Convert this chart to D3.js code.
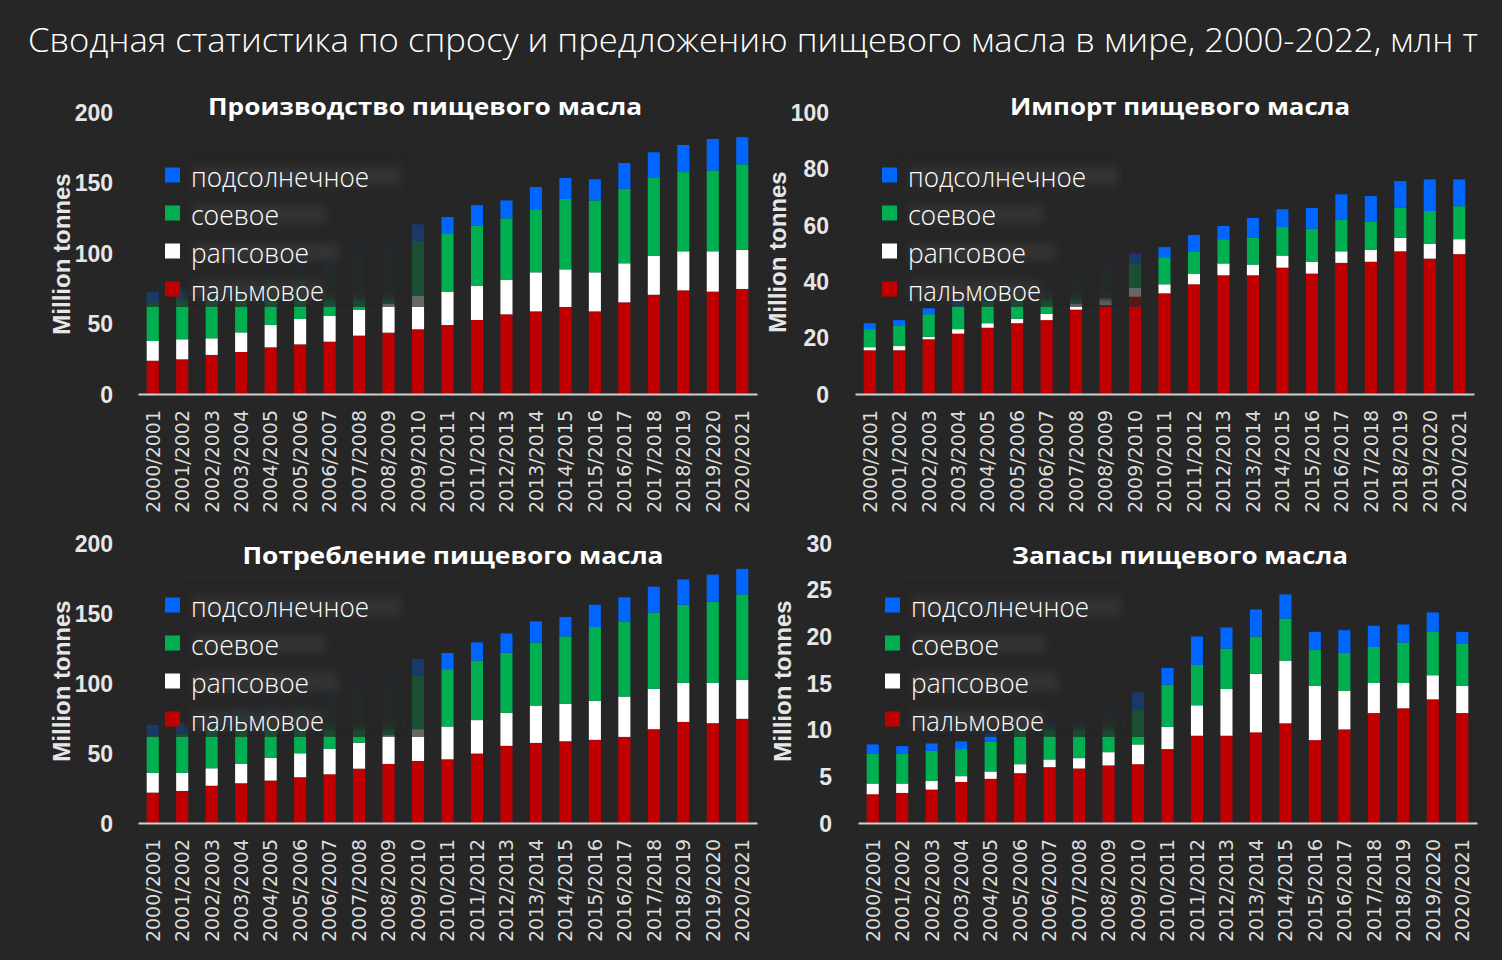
<!DOCTYPE html>
<meta charset="utf-8">
<html lang="ru">
<style>
  body { margin: 0; background: #262626; }
  svg { display: block; }
</style>
<body>
<div id="chart"></div>
<script src="https://d3js.org/d3.v7.min.js"></script>
<script>
// сезоны
var years = ["2000/2001", "2001/2002", "2002/2003", "2003/2004", "2004/2005", "2005/2006", "2006/2007",
  "2007/2008", "2008/2009", "2009/2010", "2010/2011", "2011/2012", "2012/2013", "2013/2014",
  "2014/2015", "2015/2016", "2016/2017", "2017/2018", "2018/2019", "2019/2020", "2020/2021"];

// производство, млн т
var prodPalm = [23.6, 24.6, 27.7, 29.8, 33.1, 35.2, 37.1, 41.4, 43.5, 45.9, 48.9, 52.5, 56.5, 58.6, 61.7, 58.6, 65.0, 70.4, 73.5, 72.6, 74.5];
var prodRape = [14.0, 14.2, 11.8, 13.9, 15.8, 18.0, 18.2, 18.2, 20.5, 23.6, 23.7, 24.3, 24.4, 27.7, 26.7, 27.7, 27.7, 27.7, 27.7, 28.6, 27.6];
var prodSoy  = [27.4, 28.7, 30.6, 29.9, 32.5, 34.6, 36.4, 37.8, 35.9, 39.0, 41.4, 42.6, 43.7, 44.7, 49.9, 51.0, 52.9, 55.1, 56.2, 57.4, 60.8];
var prodSun  = [7.6, 6.8, 7.6, 9.0, 9.2, 10.5, 10.7, 9.9, 11.9, 11.8, 11.5, 14.6, 12.7, 15.8, 14.9, 15.0, 18.2, 18.2, 19.2, 22.3, 19.2];

// импорт
var impPalm = [15.5, 15.5, 19.4, 21.4, 23.5, 25.1, 26.2, 29.9, 31.5, 34.5, 35.7, 38.9, 42.1, 42.1, 44.8, 42.7, 46.5, 46.9, 50.6, 48.0, 49.6];
var impRape = [1.1, 1.5, 0.9, 1.6, 1.6, 1.6, 2.2, 2.0, 2.5, 3.2, 3.2, 3.8, 4.2, 3.8, 4.3, 4.2, 4.1, 4.2, 4.8, 5.3, 5.3];
var impSoy  = [6.4, 7.1, 8.0, 8.2, 7.5, 8.8, 8.5, 9.0, 10.5, 8.6, 9.6, 7.9, 8.6, 9.5, 10.1, 11.7, 11.2, 10.1, 10.7, 11.6, 11.7];
var impSun  = [2.1, 2.1, 2.1, 2.2, 2.4, 2.8, 3.2, 3.3, 4.5, 3.6, 3.6, 5.8, 4.7, 7.0, 6.3, 7.4, 9.0, 9.0, 9.4, 11.2, 9.5];

// потребление
var consPalm = [21.7, 22.9, 26.6, 28.4, 30.3, 32.7, 34.8, 38.8, 42.2, 44.3, 45.5, 49.6, 55.1, 57.2, 58.4, 59.4, 61.5, 67.0, 72.2, 71.3, 74.4];
var consRape = [14.1, 12.9, 12.5, 13.8, 16.2, 17.1, 18.3, 18.6, 20.5, 22.7, 23.4, 23.9, 23.6, 26.7, 26.7, 27.9, 28.8, 28.8, 27.9, 28.8, 27.9];
var consSoy  = [26.6, 27.9, 30.5, 31.0, 32.0, 33.5, 35.5, 37.0, 35.8, 38.4, 41.0, 42.6, 42.9, 45.1, 48.2, 52.7, 53.7, 54.6, 55.8, 58.0, 61.0];
var consSun  = [7.7, 7.6, 8.0, 8.7, 9.0, 9.5, 10.0, 9.8, 11.2, 11.9, 11.5, 12.9, 13.8, 15.0, 13.8, 15.9, 17.2, 18.4, 18.1, 19.3, 18.2];

// запасы
var stockPalm = [3.08, 3.22, 3.58, 4.40, 4.73, 5.34, 5.98, 5.84, 6.17, 6.30, 7.92, 9.35, 9.35, 9.71, 10.68, 8.88, 10.03, 11.78, 12.29, 13.25, 11.78];
var stockRape = [1.15, 1.01, 0.93, 0.62, 0.79, 0.96, 0.83, 1.11, 1.42, 2.12, 2.39, 3.26, 5.01, 6.26, 6.72, 5.80, 4.15, 3.22, 2.71, 2.58, 2.90];
var stockSoy  = [3.22, 3.22, 3.22, 2.90, 3.22, 4.10, 3.40, 3.55, 3.90, 3.68, 4.51, 4.33, 4.33, 4.01, 4.51, 3.87, 4.05, 3.87, 4.33, 4.65, 4.51];
var stockSun  = [0.97, 0.79, 0.80, 0.82, 0.86, 1.00, 1.00, 1.10, 1.50, 1.90, 1.80, 3.04, 2.26, 2.90, 2.58, 1.93, 2.43, 2.26, 1.94, 2.08, 1.29];

// тики осей Y
var ticksProd = [0, 50, 100, 150, 200];
var ticksImp = [0, 20, 40, 60, 80, 100];
var ticksCons = [0, 50, 100, 150, 200];
var ticksStock = [0, 5, 10, 15, 20, 25, 30];

// легенда (сверху вниз) и порядок стека (снизу вверх)
var keys = ["palm", "rape", "soy", "sun"];
var colors = { palm: "#c00000", rape: "#ffffff", soy: "#00b050", sun: "#0066ff" };
var legendKeys = ["sun", "soy", "rape", "palm"];
var legendLabels = ["подсолнечное", "соевое", "рапсовое", "пальмовое"];
var legendWidths = [178, 88, 118, 133];
var smudgeWidths = [208, 133, 145, 130];

var bg = "#262626";
var W = 1502, H = 960;

var svg = d3.select("#chart").append("svg")
  .attr("width", W)
  .attr("height", H)
  .style("background", bg);

var defs = svg.append("defs");
defs.append("filter").attr("id", "soft").attr("x", "-20%").attr("y", "-20%").attr("width", "140%").attr("height", "140%")
  .append("feGaussianBlur").attr("stdDeviation", 3);
defs.append("filter").attr("id", "smudge").attr("x", "-30%").attr("y", "-100%").attr("width", "160%").attr("height", "300%")
  .append("feGaussianBlur").attr("stdDeviation", 4);

svg.append("rect").attr("width", W).attr("height", H).attr("fill", bg);

// главный заголовок
svg.append("text")
  .attr("x", 753)
  .attr("y", 52)
  .attr("text-anchor", "middle")
  .attr("textLength", 1450)
  .attr("lengthAdjust", "spacingAndGlyphs")
  .style("font-family", "'Open Sans', 'Noto Sans', sans-serif")
  .style("font-weight", 300)
  .style("font-size", "33px")
  .style("fill", "#ffffff")
  .text("Сводная статистика по спросу и предложению пищевого масла в мире, 2000-2022, млн т");

var panels = [
  { title: "Производство пищевого масла", titleX: 425, titleY: 115, titleW: 434,
    palm: prodPalm, rape: prodRape, soy: prodSoy, sun: prodSun, ticks: ticksProd,
    x0: 138, x1: 757, y0: 394, yTop: 112, tickX: 113, labX: 61, labY: 254, legX: 165, legY: 175 },
  { title: "Импорт пищевого масла", titleX: 1180, titleY: 115, titleW: 340,
    palm: impPalm, rape: impRape, soy: impSoy, sun: impSun, ticks: ticksImp,
    x0: 855, x1: 1474, y0: 394, yTop: 112, tickX: 829, labX: 777, labY: 252, legX: 882, legY: 175 },
  { title: "Потребление пищевого масла", titleX: 453, titleY: 564, titleW: 421,
    palm: consPalm, rape: consRape, soy: consSoy, sun: consSun, ticks: ticksCons,
    x0: 138, x1: 757, y0: 823, yTop: 543, tickX: 113, labX: 61, labY: 681, legX: 165, legY: 605 },
  { title: "Запасы пищевого масла", titleX: 1180, titleY: 564, titleW: 336,
    palm: stockPalm, rape: stockRape, soy: stockSoy, sun: stockSun, ticks: ticksStock,
    x0: 858, x1: 1477, y0: 823, yTop: 543, tickX: 832, labX: 782, labY: 681, legX: 885, legY: 605 }
];

panels.forEach(function (p) {
  var g = svg.append("g");

  var rows = years.map(function (yr, i) {
    return { year: yr, palm: p.palm[i], rape: p.rape[i], soy: p.soy[i], sun: p.sun[i] };
  });
  var stacked = d3.stack().keys(keys)(rows);

  var x = d3.scaleBand()
    .domain(years)
    .range([p.x0, p.x1])
    .paddingInner(0.59)
    .paddingOuter(0.295);

  var y = d3.scaleLinear()
    .domain([0, p.ticks[p.ticks.length - 1]])
    .range([p.y0, p.yTop]);

  // столбики
  g.selectAll("g.layer")
    .data(stacked)
    .enter().append("g")
    .attr("class", "layer")
    .attr("fill", function (d) { return colors[d.key]; })
    .selectAll("rect")
    .data(function (d) { return d; })
    .enter().append("rect")
    .attr("x", function (d) { return x(d.data.year); })
    .attr("y", function (d) { return y(d[1]); })
    .attr("width", x.bandwidth())
    .attr("height", function (d) { return y(d[0]) - y(d[1]); });

  // ось X
  var xAxis = g.append("g")
    .attr("transform", "translate(0," + p.y0 + ")")
    .call(d3.axisBottom(x).tickSize(0).tickSizeOuter(0));
  xAxis.select(".domain")
    .attr("stroke", "#d0d0d0")
    .attr("stroke-width", 2);
  xAxis.selectAll("text")
    .attr("transform", "rotate(-90)")
    .attr("x", -16)
    .attr("y", 0)
    .attr("dy", "0.36em")
    .attr("text-anchor", "end")
    .style("font-family", "'DejaVu Sans', sans-serif")
    .style("font-size", "19px")
    .style("fill", "#dcdcdc");

  // ось Y
  var yAxis = g.append("g")
    .attr("transform", "translate(" + p.tickX + ",0)")
    .call(d3.axisLeft(y).tickValues(p.ticks).tickSize(0).tickPadding(0));
  yAxis.select(".domain").remove();
  yAxis.selectAll("text")
    .attr("dy", "0.36em")
    .style("font-family", "'Liberation Sans', Arial, sans-serif")
    .style("font-weight", 700)
    .style("font-size", "23px")
    .style("fill", "#e6e6e6");

  g.append("text")
    .attr("transform", "translate(" + p.labX + "," + p.labY + ") rotate(-90)")
    .attr("text-anchor", "middle")
    .attr("dy", "0.36em")
    .style("font-family", "'Liberation Sans', Arial, sans-serif")
    .style("font-weight", 700)
    .style("font-size", "24px")
    .style("fill", "#e6e6e6")
    .text("Million tonnes");

  // заголовок панели
  g.append("text")
    .attr("x", p.titleX)
    .attr("y", p.titleY)
    .attr("text-anchor", "middle")
    .attr("textLength", p.titleW)
    .attr("lengthAdjust", "spacingAndGlyphs")
    .style("font-family", "'Open Sans', 'Noto Sans', sans-serif")
    .style("font-weight", 700)
    .style("font-size", "24px")
    .style("fill", "#ffffff")
    .text(p.title);

  // затемнённая подложка под легендой
  var step = 38;
  var lastY = p.legY + 3 * step;
  g.append("rect")
    .attr("x", p.legX - 25)
    .attr("y", p.legY - 25)
    .attr("width", 292)
    .attr("height", lastY + 18 - (p.legY - 25))
    .attr("fill", bg)
    .attr("opacity", 0.7);
  g.append("rect")
    .attr("x", p.legX + 19)
    .attr("y", p.legY - 17)
    .attr("width", 219)
    .attr("height", lastY + 11 - (p.legY - 17))
    .attr("fill", bg)
    .attr("opacity", 0.9)
    .attr("filter", "url(#soft)");

  // размытые следы старой легенды
  smudgeWidths.forEach(function (w, i) {
    g.append("rect")
      .attr("x", p.legX + 28)
      .attr("y", p.legY + i * step - 8)
      .attr("width", w)
      .attr("height", 18)
      .attr("fill", "#ffffff")
      .attr("opacity", 0.06)
      .attr("filter", "url(#smudge)");
  });

  // легенда
  legendKeys.forEach(function (k, i) {
    var cy = p.legY + i * step;
    g.append("rect")
      .attr("x", p.legX)
      .attr("y", cy - 7.5)
      .attr("width", 15)
      .attr("height", 15)
      .attr("fill", colors[k]);
    g.append("text")
      .attr("x", p.legX + 26)
      .attr("y", cy + 12)
      .attr("textLength", legendWidths[i])
      .attr("lengthAdjust", "spacingAndGlyphs")
      .style("font-family", "'Open Sans', 'Noto Sans', sans-serif")
      .style("font-weight", 300)
      .style("font-size", "27px")
      .style("fill", "#ffffff")
      .text(legendLabels[i]);
  });
});
</script>
</body>
</html>
